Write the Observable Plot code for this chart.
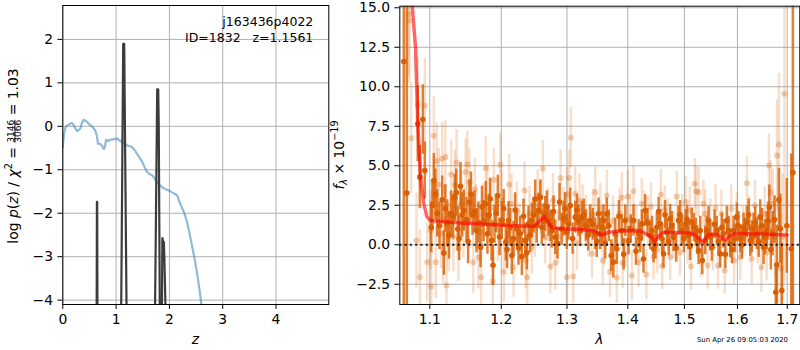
<!DOCTYPE html>
<html><head><meta charset="utf-8">
<script src="https://cdn.jsdelivr.net/npm/d3@7"></script>
<script src="https://cdn.jsdelivr.net/npm/@observablehq/plot@0.6"></script>
<style>
body{margin:0;background:#fff;}
#wrap{position:relative;width:800px;height:350px;overflow:hidden;font-family:"DejaVu Sans",sans-serif;background:#fff;}
#left,#right{position:absolute;top:0;}
#left{left:0px;}
#right{left:330px;}
svg text{white-space:pre;}
</style></head>
<body><div id="wrap"><div id="left"></div><div id="right"></div></div>
<script>
// ---------- left panel data ----------
const zTicks = [0, 1, 2, 3, 4];
const logpTicks = [-4, -3, -2, -1, 0, 1, 2];
const chiZ = [0, 0.02, 0.05, 0.08, 0.13, 0.17, 0.21, 0.24, 0.27, 0.30, 0.33, 0.36, 0.39, 0.43, 0.47, 0.52, 0.57, 0.61, 0.64, 0.66, 0.71, 0.74, 0.77, 0.79, 0.81, 0.85, 0.88, 0.94, 1.01, 1.06, 1.11, 1.16, 1.21, 1.26, 1.30, 1.35, 1.39, 1.44, 1.49, 1.53, 1.58, 1.63, 1.68, 1.72, 1.77, 1.82, 1.86, 1.92, 1.98, 2.05, 2.11, 2.15, 2.18, 2.22, 2.27, 2.30, 2.33, 2.38, 2.43, 2.48, 2.52, 2.56, 2.60, 2.63];
const chiV = [-0.48, -0.2, -0.02, 0.02, 0.05, 0.08, 0.02, -0.06, -0.11, -0.08, -0.05, 0.08, 0.15, 0.13, 0.08, 0.02, -0.03, -0.1, -0.22, -0.4, -0.41, -0.45, -0.52, -0.48, -0.31, -0.34, -0.31, -0.3, -0.28, -0.32, -0.36, -0.4, -0.44, -0.46, -0.48, -0.55, -0.63, -0.72, -0.82, -0.93, -1.05, -1.1, -1.13, -1.2, -1.28, -1.35, -1.4, -1.44, -1.47, -1.52, -1.56, -1.6, -1.72, -1.83, -1.97, -2.08, -2.2, -2.48, -2.78, -3.1, -3.39, -3.72, -4.1, -4.4];
const pzZ = [0, 0.628, 0.640, 0.645, 0.657, 1.072, 1.133, 1.152, 1.223, 1.700, 1.771, 1.790, 1.800, 1.838, 1.840, 1.868, 1.878, 1.885, 1.895, 1.905, 1.930, 1.960, 4.99];
const pzV = [-8, -8, -1.74, -1.74, -8, -8, 1.9, 1.9, -8, -8, 0.85, 0.85, 0.0, -8, -8, -2.57, -2.62, -2.8, -2.66, -3.0, -4.4, -8, -8];

// ---------- right panel data ----------
const lamTicks = [1.1, 1.2, 1.3, 1.4, 1.5, 1.6, 1.7];
const fluxTicks = [-2.5, 0, 2.5, 5, 7.5, 10, 12.5, 15];
const darkWave = [1.0657, 1.0696, 1.0840, 1.0867, 1.0907, 1.0933, 1.1019, 1.1054, 1.1100, 1.1167, 1.1189, 1.1236, 1.1288, 1.1340, 1.1381, 1.1419, 1.1465, 1.1503, 1.1545, 1.1587, 1.1644, 1.1701, 1.1744, 1.1776, 1.1822, 1.1859, 1.1902, 1.1950, 1.2008, 1.2067, 1.2107, 1.2156, 1.2181, 1.2230, 1.2281, 1.2305, 1.2356, 1.2406, 1.2456, 1.2507, 1.2558, 1.2608, 1.2660, 1.2711, 1.2763, 1.2816, 1.2883, 1.2946, 1.2998, 1.3052, 1.3132, 1.3185, 1.3238, 1.3303, 1.3374, 1.3456, 1.3510, 1.3538, 1.3592, 1.3647, 1.3721, 1.3788, 1.3814, 1.3899, 1.3957, 1.4013, 1.4098, 1.4185, 1.4242, 1.4301, 1.4388, 1.4446, 1.4504, 1.4564, 1.4623, 1.4682, 1.4743, 1.4802, 1.4893, 1.4953, 1.5026, 1.5075, 1.5136, 1.5210, 1.5260, 1.5292, 1.5385, 1.5447, 1.5509, 1.5604, 1.5668, 1.5732, 1.5795, 1.5861, 1.5925, 1.5989, 1.6055, 1.6120, 1.6185, 1.6252, 1.6317, 1.6383, 1.6451, 1.6517, 1.6584, 1.6633, 1.6700, 1.6788, 1.6829, 1.6858, 1.6890, 1.6993, 1.7085, 1.7118];
const darkFlux = [11.6, 3.27, 7.66, 4.28, 7.93, 4.7, 1.1, 4.07, 2.0, 2.85, -0.53, 1.35, 2.0, 2.97, 1.0, 3.7, 2.17, 1.6, 2.7, 1.9, 0.9, -0.15, 1.5, 2.6, 1.9, 0.27, 1.3, 3.1, 1.54, 0.17, 1.54, -0.68, 0.38, 1.0, 0.7, -0.74, 0.27, 1.33, 1.54, 2.9, 2.17, 1.11, 1.96, 1.54, 0.9, 0.48, 2.7, 1.65, 0.8, 2.49, 1.75, 1.54, 1.75, 1.22, 1.54, 0.7, 1.96, 0.7, 1.54, 1.96, -0.68, 0.7, -0.25, 0.9, 1.54, 0.27, 1.54, 0.7, 1.33, 2.17, 0.59, -0.25, 1.11, 1.33, -0.57, 0.8, 1.65, 0.48, 1.54, 0.9, 1.33, 0.59, 1.43, 0.8, -0.36, 0.9, 0.27, 1.54, -0.15, 0.9, -0.57, 0.7, 1.54, 0.06, 0.9, 1.75, 0.38, 1.11, 1.43, 0.27, 1.01, 0.7, 1.75, -0.15, 0.9, 2.38, 0.7, -1.27, 2.85, 1.01, -2.9, 1.2, -0.25, 4.57];
const darkErr = [40, 40, 2.4, 2.0, 2.2, 1.8, 1.6, 1.7, 1.5, 1.5, 1.4, 1.5, 1.4, 1.5, 1.4, 1.5, 1.3, 1.4, 1.4, 1.3, 1.4, 1.3, 1.3, 1.4, 1.3, 1.3, 1.2, 1.3, 1.2, 1.2, 1.2, 1.2, 1.1, 1.1, 1.1, 1.2, 1.1, 1.1, 1.1, 1.2, 1.1, 1.1, 1.1, 1.0, 1.1, 1.1, 1.2, 1.1, 1.1, 1.1, 1.0, 1.0, 1.0, 1.0, 1.0, 1.0, 1.0, 1.0, 1.0, 1.0, 1.0, 1.0, 1.0, 1.0, 1.0, 0.9, 1.0, 0.9, 0.9, 1.0, 0.9, 0.9, 0.9, 0.9, 0.9, 0.9, 0.9, 0.9, 0.9, 0.9, 0.9, 0.9, 0.9, 0.9, 0.9, 0.9, 0.9, 0.9, 0.9, 0.9, 0.9, 0.9, 0.9, 0.9, 0.9, 0.9, 0.9, 0.9, 1.0, 1.0, 1.0, 1.0, 1.1, 1.1, 1.2, 1.4, 1.4, 2.5, 2.0, 2.2, 3.0, 3.0, 6.0, 40];
// second interleaved set of spectrum pixels (same dark series)
const darkWave2 = [1.1035, 1.1075, 1.1130, 1.1210, 1.1260, 1.1315, 1.1360, 1.1400, 1.1440, 1.1525, 1.1565, 1.1615, 1.1670, 1.1722, 1.1800, 1.1840, 1.1880, 1.1925, 1.1975, 1.2035, 1.2085, 1.2130, 1.2205, 1.2255, 1.2330, 1.2380, 1.2430, 1.2480, 1.2530, 1.2585, 1.2635, 1.2685, 1.2740, 1.2790, 1.2850, 1.2915, 1.2970, 1.3025, 1.3090, 1.3160, 1.3210, 1.3270, 1.3340, 1.3415, 1.3480, 1.3570, 1.3620, 1.3680, 1.3755, 1.3850, 1.3930, 1.4050, 1.4140, 1.4215, 1.4270, 1.4340, 1.4420, 1.4480, 1.4535, 1.4595, 1.4650, 1.4715, 1.4770, 1.4850, 1.4920, 1.4990, 1.5050, 1.5105, 1.5175, 1.5235, 1.5330, 1.5415, 1.5480, 1.5560, 1.5635, 1.5700, 1.5765, 1.5830, 1.5895, 1.5955, 1.6020, 1.6090, 1.6150, 1.6220, 1.6285, 1.6350, 1.6420, 1.6485, 1.6550, 1.6610, 1.6665, 1.6740, 1.6765];
const darkFlux2 = [2.5, 3.2, 1.2, 2.3, 0.6, 1.8, 3.3, 0.4, 1.9, 0.2, 3.2, 2.1, 1.4, 2.4, 0.7, 2.9, -1.3, 2.0, 0.5, 2.3, -0.3, 1.1, 2.2, -0.2, 1.8, -0.5, 0.6, 1.9, 1.2, 3.0, 1.5, 2.4, 1.2, 2.1, 0.1, 1.0, 2.3, 1.3, 0.4, 2.2, 0.9, 1.9, 0.6, 1.3, 0.2, 1.1, 0.1, 1.2, -1.1, 1.8, -0.6, 1.0, -0.4, 0.4, -0.9, 1.4, 0.9, 0.0, 2.1, 0.4, 1.9, 0.2, 1.2, -0.2, 1.9, 0.4, 1.6, -0.1, 1.1, 0.3, -1.0, 0.9, 0.5, 1.3, 0.2, 1.1, -0.6, 0.9, -0.3, 0.4, 1.2, 0.0, 0.8, 1.9, 0.5, 1.4, 0.2, 1.2, 0.5, 1.5, -0.3, 1.6, -3.0];
const darkErr2 = [1.6, 1.6, 1.5, 1.5, 1.5, 1.4, 1.5, 1.4, 1.4, 1.4, 1.4, 1.3, 1.3, 1.3, 1.3, 1.3, 1.3, 1.2, 1.2, 1.2, 1.2, 1.2, 1.1, 1.1, 1.1, 1.1, 1.1, 1.1, 1.1, 1.1, 1.1, 1.0, 1.0, 1.0, 1.0, 1.0, 1.0, 1.0, 1.0, 1.0, 1.0, 1.0, 1.0, 1.0, 1.0, 1.0, 1.0, 1.0, 1.0, 1.0, 1.0, 0.9, 0.9, 0.9, 0.9, 0.9, 0.9, 0.9, 0.9, 0.9, 0.9, 0.9, 0.9, 0.9, 0.9, 0.9, 0.9, 0.9, 0.9, 0.9, 0.9, 0.9, 0.9, 0.9, 0.9, 0.9, 0.9, 0.9, 0.9, 0.9, 0.9, 0.9, 0.9, 1.0, 1.0, 1.0, 1.0, 1.1, 1.1, 1.2, 1.3, 1.5, 1.6];
const lightWave = [1.0720, 1.0729, 1.0754, 1.0823, 1.0840, 1.0867, 1.0934, 1.0965, 1.1010, 1.1019, 1.1054, 1.1080, 1.1094, 1.1150, 1.1167, 1.1180, 1.1211, 1.1225, 1.1255, 1.1290, 1.1340, 1.1390, 1.1430, 1.1490, 1.1515, 1.1545, 1.1598, 1.1640, 1.1700, 1.1710, 1.1776, 1.1834, 1.1876, 1.1893, 1.1985, 1.2037, 1.2117, 1.2181, 1.2230, 1.2345, 1.2362, 1.2386, 1.2456, 1.2545, 1.2624, 1.2660, 1.2740, 1.2781, 1.2816, 1.2900, 1.2946, 1.2998, 1.3036, 1.3061, 1.3100, 1.3132, 1.3200, 1.3303, 1.3402, 1.3456, 1.3510, 1.3580, 1.3647, 1.3700, 1.3814, 1.3899, 1.3912, 1.4000, 1.4070, 1.4098, 1.4185, 1.4242, 1.4320, 1.4350, 1.4446, 1.4576, 1.4600, 1.4645, 1.4743, 1.4860, 1.4920, 1.5026, 1.5100, 1.5120, 1.5190, 1.5215, 1.5260, 1.5385, 1.5430, 1.5530, 1.5625, 1.5690, 1.5755, 1.5880, 1.5935, 1.6055, 1.6185, 1.6280, 1.6345, 1.6475, 1.6540, 1.6625, 1.6660, 1.6750, 1.6790, 1.6830, 1.6944];
const lightFlux = [14.6, 14.2, 6.75, 0.27, 8.86, -2.05, 8.8, -1.1, 0.9, -2.64, 6.9, -1.1, 5.3, 0.7, 5.44, -0.25, 5.55, -2.58, 0.48, 4.45, 3.8, -0.23, 2.6, 4.6, 5.1, 3.96, -1.1, 1.8, 0.8, -2.05, 4.85, 2.28, -2.32, 4.11, 5.06, -1.73, 3.82, -1.42, 2.17, 3.44, -0.99, -2.05, -0.15, 3.06, 4.81, 0.48, -1.37, 2.8, -1.16, 4.22, 1.9, -2.05, 4.22, 6.77, -2.0, 3.23, 2.8, 1.54, -0.57, 3.33, 1.2, -0.99, 3.12, -1.73, -2.09, 2.97, -1.16, 3.06, -1.94, 3.39, -1.1, 2.6, -1.88, 1.5, -0.74, 3.18, -1.35, 2.22, -0.78, 3.06, -0.47, 2.7, 2.17, -1.37, 3.86, 3.39, 3.33, 1.96, -1.31, -0.15, -1.31, 1.96, -1.63, 2.28, -0.99, -0.78, 3.9, -0.89, 2.49, -1.42, 1.96, 5.02, 3.33, 0.48, 5.65, 6.35, 9.56];
const lightErr = [4, 4, 3.5, 3, 3, 3, 3, 2.5, 2.5, 2.5, 2.5, 2.3, 2.4, 2.2, 2.3, 2.2, 2.3, 2.3, 2.2, 2.2, 2.2, 2.1, 2.1, 2.1, 2.1, 2.1, 2.0, 2.0, 2.0, 2.0, 2.0, 2.0, 2.0, 2.0, 2.0, 1.9, 1.9, 1.9, 1.8, 1.8, 1.8, 1.8, 1.7, 1.7, 1.8, 1.7, 1.7, 1.7, 1.7, 1.8, 1.7, 1.7, 1.8, 1.9, 1.7, 1.7, 1.7, 1.6, 1.6, 1.6, 1.6, 1.6, 1.6, 1.6, 1.6, 1.6, 1.6, 1.6, 1.6, 1.6, 1.6, 1.6, 1.6, 1.6, 1.5, 1.6, 1.5, 1.5, 1.5, 1.6, 1.5, 1.6, 1.5, 1.5, 1.6, 1.6, 1.6, 1.5, 1.5, 1.5, 1.5, 1.5, 1.5, 1.5, 1.5, 1.5, 1.7, 1.6, 1.6, 1.6, 1.7, 2.0, 2.0, 2.5, 3.5, 4.5, 12];
const lightWave2 = [1.1120, 1.1200, 1.1320, 1.1365, 1.1460, 1.1620, 1.1670, 1.1740, 1.1800, 1.1950, 1.2010, 1.2080, 1.2150, 1.2270, 1.2420, 1.2500, 1.2590, 1.2700, 1.2860, 1.3000, 1.3160, 1.3250, 1.3350, 1.3420, 1.3540, 1.3610, 1.3750, 1.3860, 1.3960, 1.4040, 1.4140, 1.4280, 1.4400, 1.4510, 1.4700, 1.4800, 1.4960, 1.5060, 1.5300, 1.5350, 1.5480, 1.5580, 1.5800, 1.5990, 1.6110, 1.6230, 1.6400, 1.6580, 1.6700, 1.6870, 1.6900];
const lightFlux2 = [3.8, 1.6, 0.5, 5.2, 1.3, 3.5, -0.8, 1.9, 3.0, 0.9, 2.8, 0.3, 2.6, 0.8, 2.0, 0.9, 2.4, 1.9, 0.5, 3.2, 0.1, 2.2, 0.8, 1.9, 2.3, 0.3, 1.5, 2.0, 0.2, 1.6, 0.9, 1.8, 2.4, -0.3, 1.4, 0.6, 1.7, 0.3, -0.6, 2.6, 1.4, 2.3, 0.6, 1.8, 0.9, 1.5, 0.4, -0.5, 2.6, -1.5, 0.5];
const lightErr2 = [2.3, 2.2, 2.2, 2.1, 2.1, 2.0, 2.0, 2.0, 2.0, 2.0, 1.9, 1.9, 1.9, 1.8, 1.7, 1.7, 1.7, 1.7, 1.7, 1.7, 1.7, 1.6, 1.6, 1.6, 1.6, 1.6, 1.6, 1.6, 1.6, 1.6, 1.6, 1.6, 1.5, 1.5, 1.5, 1.5, 1.5, 1.5, 1.5, 1.5, 1.5, 1.5, 1.5, 1.5, 1.5, 1.6, 1.6, 1.8, 2.2, 3.5, 4.0];
const modelWave = [1.0740, 1.0767, 1.0810, 1.0840, 1.0876, 1.0920, 1.0960, 1.1000, 1.1200, 1.1465, 1.1700, 1.1910, 1.2150, 1.2480, 1.2550, 1.2645, 1.2700, 1.2768, 1.2945, 1.3200, 1.3433, 1.3500, 1.3570, 1.3677, 1.3930, 1.4220, 1.4393, 1.4463, 1.4538, 1.4626, 1.5110, 1.5230, 1.5347, 1.5437, 1.5600, 1.5700, 1.5769, 1.5864, 1.5960, 1.6500, 1.7000];
const modelFlux = [17, 15.1, 12.5, 7.7, 4.3, 2.6, 1.8, 1.55, 1.45, 1.37, 1.32, 1.27, 1.22, 1.16, 1.4, 1.79, 1.45, 1.07, 1.02, 0.98, 0.87, 0.75, 0.6, 0.8, 0.91, 0.87, 0.55, 0.2, 0.55, 0.8, 0.75, 0.53, 0.14, 0.65, 0.65, 0.45, 0.3, 0.6, 0.72, 0.68, 0.62];

// ---------- build tables ----------
const chiRows = chiZ.map((z, i) => ({z, v: chiV[i]}));
const pzRows = pzZ.map((z, i) => ({z, v: pzV[i]}));
const mk = (W, F, E) => W.map((w, i) => ({w, f: F[i], lo: F[i] - E[i], hi: F[i] + E[i]}));
const darkRows = mk(darkWave, darkFlux, darkErr).concat(mk(darkWave2, darkFlux2, darkErr2));
const lightRows = mk(lightWave, lightFlux, lightErr).concat(mk(lightWave2, lightFlux2, lightErr2));
const modelRows = modelWave.map((w, i) => ({w, f: modelFlux[i]}));

const FONT = "DejaVu Sans";
const grid = {stroke: "#b0b0b0", strokeOpacity: 1, strokeWidth: 1};
const orange = "#d95f02";

const left = Plot.plot({
  width: 335, height: 350,
  marginLeft: 62.3, marginRight: 6.7, marginTop: 5, marginBottom: 46,
  style: {fontFamily: FONT, fontSize: "13.9px", background: "transparent", color: "black", overflow: "visible"},
  x: {domain: [0, 4.99], ticks: zTicks, tickFormat: d3.format("d"), label: null, tickSize: 4.9, tickPadding: 4.9},
  y: {domain: [-4.1, 2.78], ticks: logpTicks, tickFormat: d3.format("d"), label: null, tickSize: 4.9, tickPadding: 4.9},
  marks: [
    Plot.gridX(zTicks, grid),
    Plot.gridY(logpTicks, grid),
    Plot.line(chiRows, {x: "z", y: "v", stroke: "#1f77b4", strokeOpacity: 0.5, strokeWidth: 2.2, clip: true}),
    Plot.line(pzRows, {x: "z", y: "v", stroke: "#3c3c3c", strokeWidth: 2.2, clip: true}),
    Plot.frame({stroke: "black", strokeWidth: 1})
  ]
});
document.getElementById("left").appendChild(left);

const right = Plot.plot({
  width: 470, height: 350,
  marginLeft: 69.3, marginRight: 0.7, marginTop: 5.7, marginBottom: 46,
  style: {fontFamily: FONT, fontSize: "13.9px", background: "transparent", color: "black", overflow: "visible"},
  x: {type: "log", domain: [1.0605, 1.7263], ticks: lamTicks, tickFormat: d3.format(".1f"), label: null, tickSize: 4.9, tickPadding: 4.9},
  y: {domain: [-3.78, 15.1], ticks: fluxTicks, tickFormat: d3.format(".1f"), label: null, tickSize: 4.9, tickPadding: 4.9},
  marks: [
    Plot.gridX(lamTicks, grid),
    Plot.gridY(fluxTicks, grid),
    Plot.ruleX(lightRows, {x: "w", y1: "lo", y2: "hi", stroke: orange, strokeOpacity: 0.2, strokeWidth: 2.5, clip: true}),
    Plot.dot(lightRows, {x: "w", y: "f", r: 3, fill: orange, fillOpacity: 0.3, stroke: "none", clip: true}),
    Plot.ruleX(darkRows, {x: "w", y1: "lo", y2: "hi", stroke: orange, strokeOpacity: 0.8, strokeWidth: 2.5, clip: true}),
    Plot.dot(darkRows, {x: "w", y: "f", r: 2.8, fill: orange, stroke: "none", clip: true}),
    Plot.line(modelRows, {x: "w", y: "f", stroke: "red", strokeOpacity: 0.6, strokeWidth: 3.5, clip: true}),
    Plot.ruleY([0], {stroke: "black", strokeOpacity: 0.85, strokeWidth: 2, strokeDasharray: "2,3.3"}),
    Plot.frame({stroke: "black", strokeWidth: 1})
  ]
});
document.getElementById("right").appendChild(right);

// ---------- text ----------
const L = d3.select(left), R = d3.select(right);
function txt(sel, x, y, anchor, size, s, italic) {
  const t = sel.append("text").attr("x", x).attr("y", y).attr("text-anchor", anchor)
    .style("font-family", FONT).style("font-size", size + "px").attr("fill", "black").text(s);
  if (italic) t.style("font-style", "italic");
  return t;
}
// annotation
txt(L, 313.3, 25.5, "end", 12.5, "j163436p4022");
txt(L, 313.3, 41.5, "end", 12.5, "ID=1832   z=1.1561");
// x labels
txt(L, 195.3, 344, "middle", 13.9, "z", true);
txt(R, 269.3, 344, "middle", 13.9, "λ", true);
// timestamp
txt(R, 458, 342, "end", 6.9, "Sun Apr 26 09:05:03 2020");

// left y label (single text, fraction via tspans)
const yl = L.append("text").attr("transform", "translate(17.5,156) rotate(-90)").attr("text-anchor", "middle")
  .style("font-family", FONT).style("font-size", "13.9px").attr("fill", "black");
const sp = (s, o = {}) => {
  const t = yl.append("tspan").text(s);
  if (o.i) t.style("font-style", "italic");
  if (o.fs) t.style("font-size", o.fs + "px");
  if (o.dy) t.attr("dy", o.dy);
  if (o.dx) t.attr("dx", o.dx);
  if (o.u) t.style("text-decoration", "underline");
  return t;
};
sp("log ");
sp("p", {i: 1});
sp("(");
sp("z", {i: 1});
sp(") / ");
sp("χ", {i: 1});
sp("2", {fs: 9.7, dy: -5.5});
sp(" = ", {dy: 5.5});
sp("3146", {fs: 9, dy: -4, u: 1});
sp("3066", {fs: 9, dx: -22.9, dy: 7.4});
sp(" = 1.03", {dy: -3.4});

// right y label
const rl = R.append("text").attr("transform", "translate(14,155) rotate(-90)").attr("text-anchor", "middle")
  .style("font-family", FONT).style("font-size", "13.9px").attr("fill", "black");
rl.append("tspan").style("font-style", "italic").text("f");
rl.append("tspan").style("font-style", "italic").style("font-size", "9.7px").attr("dy", 3).text("λ");
rl.append("tspan").attr("dy", -3).text(" × 10");
rl.append("tspan").style("font-size", "9.7px").attr("dy", -6).text("−19");
</script>
</body></html>
